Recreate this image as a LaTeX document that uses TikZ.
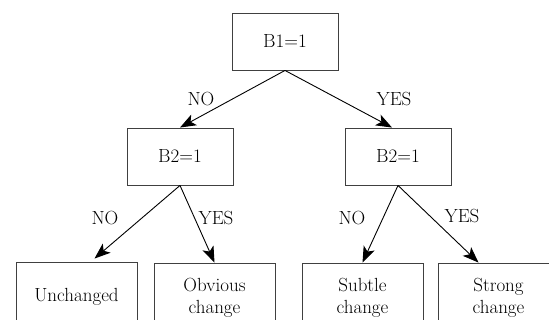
\documentclass[tikz,border=0pt]{standalone}
\usetikzlibrary{arrows.meta}
\begin{document}
\begin{tikzpicture}[x=1pt,y=-1pt,
  every node/.style={font=\fontsize{19}{22}\selectfont, inner sep=0pt},
  testbox/.style={draw=black!75, line width=0.9pt, minimum width=106pt, minimum height=57pt},
  leafbox/.style={draw=black!75, line width=0.9pt, minimum width=121pt, minimum height=70pt, align=center},
  branch/.style={draw=black, line width=0.9pt, -{Stealth[length=16pt,width=12pt,inset=4pt]}},
  answer/.style={text=black}]
  \clip (0,0) rectangle (549,320);
  \useasboundingbox (0,0) rectangle (549,320);

  % decision nodes
  \node[testbox] (root) at (285,41.5) {B1=1};
  \node[testbox] (left) at (180,156.5) {B2=1};
  \node[testbox] (right) at (398,156.5) {B2=1};

  % outcomes
  \node[leafbox] (unch) at (76.5,297) {Unchanged};
  \node[leafbox] (obv) at (214.5,298) {Obvious\\change};
  \node[leafbox] (sub) at (362.5,298) {Subtle\\change};
  \node[leafbox] (str) at (498.5,298) {Strong\\change};

  % branches
  \draw[branch] (root.south) -- (left.north);
  \draw[branch] (root.south) -- ([xshift=-6pt]right.north);
  \draw[branch] (left.south) -- ([xshift=18pt,yshift=3pt]unch.north);
  \draw[branch] (left.south) -- (obv.north);
  \draw[branch] (right.south) -- (sub.north);
  \draw[branch] (right.south) -- ([xshift=-20pt]str.north);

  % branch labels
  \node[answer] (n1) at (201,99) {NO};
  \node[answer] (y1) at (394,99) {YES};
  \node[answer] (n2) at (105,218) {NO};
  \node[answer] (y2) at (216,218) {YES};
  \node[answer] (n3) at (352,218) {NO};
  \node[answer] (y3) at (462,216) {YES};
\end{tikzpicture}
\end{document}
